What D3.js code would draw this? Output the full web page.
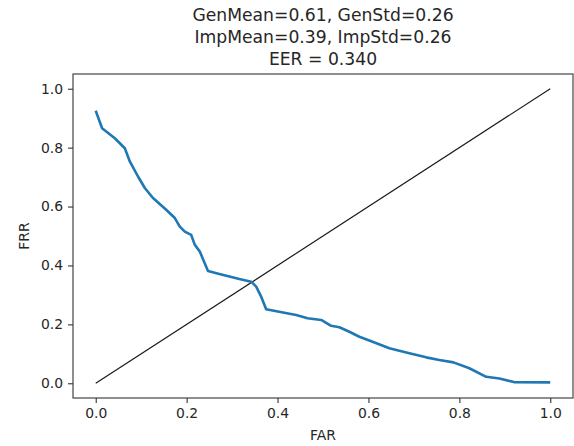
<!DOCTYPE html>
<html>
<head>
<meta charset="utf-8">
<script src="https://cdn.jsdelivr.net/npm/d3@7"></script>
<style>
  html, body { margin: 0; padding: 0; background: #fff; }
  svg { display: block; font-family: "DejaVu Sans", sans-serif; }
</style>
</head>
<body>
<svg id="chart" width="574" height="446"></svg>
<script>
// ---- data ----
const titleLines = ["GenMean=0.61, GenStd=0.26", "ImpMean=0.39, ImpStd=0.26", "EER = 0.340"];
const xLabel = "FAR";
const yLabel = "FRR";
const xTicks = [0.0, 0.2, 0.4, 0.6, 0.8, 1.0];
const yTicks = [0.0, 0.2, 0.4, 0.6, 0.8, 1.0];
const far = [0.000, 0.014, 0.042, 0.064, 0.075, 0.093, 0.108, 0.126, 0.155, 0.174, 0.185, 0.196, 0.210, 0.218, 0.229, 0.247, 0.272, 0.316, 0.342, 0.353, 0.364, 0.375, 0.412, 0.441, 0.466, 0.496, 0.518, 0.536, 0.558, 0.580, 0.609, 0.646, 0.690, 0.727, 0.756, 0.787, 0.822, 0.859, 0.888, 0.920, 1.000];
const frr = [0.925, 0.866, 0.832, 0.798, 0.753, 0.702, 0.663, 0.629, 0.589, 0.561, 0.532, 0.515, 0.504, 0.470, 0.447, 0.381, 0.371, 0.354, 0.345, 0.328, 0.294, 0.251, 0.240, 0.232, 0.221, 0.215, 0.195, 0.190, 0.175, 0.158, 0.141, 0.119, 0.102, 0.088, 0.079, 0.071, 0.051, 0.022, 0.016, 0.004, 0.003];
const diagX = [0, 1];
const diagY = [0, 1];

// ---- layout ----
const svg = d3.select("#chart");
const mLeft = 73, mRight = 573, mTop = 74, mBottom = 398;
const x = d3.scaleLinear().domain([-0.05, 1.05]).range([mLeft, mRight]);
const y = d3.scaleLinear().domain([-0.05, 1.05]).range([mBottom, mTop]);

const textColor = "#262626";

// diagonal
svg.append("path")
  .datum(diagX.map((v, i) => [v, diagY[i]]))
  .attr("fill", "none").attr("stroke", "#1a1a1a").attr("stroke-width", 1.2)
  .attr("d", d3.line().x(d => x(d[0])).y(d => y(d[1])));

// curve
svg.append("path")
  .datum(far.map((v, i) => [v, frr[i]]))
  .attr("fill", "none").attr("stroke", "#1f77b4").attr("stroke-width", 2.6)
  .attr("stroke-linejoin", "round").attr("stroke-linecap", "butt")
  .attr("d", d3.line().x(d => x(d[0])).y(d => y(d[1])));

// axes
const xAxis = d3.axisBottom(x).tickValues(xTicks).tickFormat(d3.format(".1f")).tickSizeOuter(0).tickSize(5).tickPadding(5);
const yAxis = d3.axisLeft(y).tickValues(yTicks).tickFormat(d3.format(".1f")).tickSizeOuter(0).tickSize(5).tickPadding(5);

const gx = svg.append("g").attr("transform", `translate(0,${mBottom})`).call(xAxis);
const gy = svg.append("g").attr("transform", `translate(${mLeft},0)`).call(yAxis);
[gx, gy].forEach(g => {
  g.select(".domain").remove();
  g.selectAll(".tick line").attr("stroke", "#333").attr("stroke-width", 1.1);
  g.selectAll(".tick text").attr("fill", textColor).style("font-size", "13.9px").style("font-family", "DejaVu Sans");
});

// frame
svg.append("rect")
  .attr("x", mLeft).attr("y", mTop).attr("width", mRight - mLeft).attr("height", mBottom - mTop)
  .attr("fill", "none").attr("stroke", "#333").attr("stroke-width", 1.1);

// axis labels
svg.append("text").attr("x", (mLeft + mRight) / 2).attr("y", 440)
  .attr("text-anchor", "middle").attr("fill", textColor).style("font-size", "13.9px").text(xLabel);
svg.append("text").attr("transform", `translate(29,${(mTop + mBottom) / 2}) rotate(-90)`)
  .attr("text-anchor", "middle").attr("fill", textColor).style("font-size", "13.9px").text(yLabel);

// title
svg.append("g").selectAll("text").data(titleLines).join("text")
  .attr("x", (mLeft + mRight) / 2)
  .attr("y", (d, i) => 20.5 + i * 22)
  .attr("text-anchor", "middle").attr("fill", textColor).style("font-size", "17.2px")
  .text(d => d);
</script>
</body>
</html>
